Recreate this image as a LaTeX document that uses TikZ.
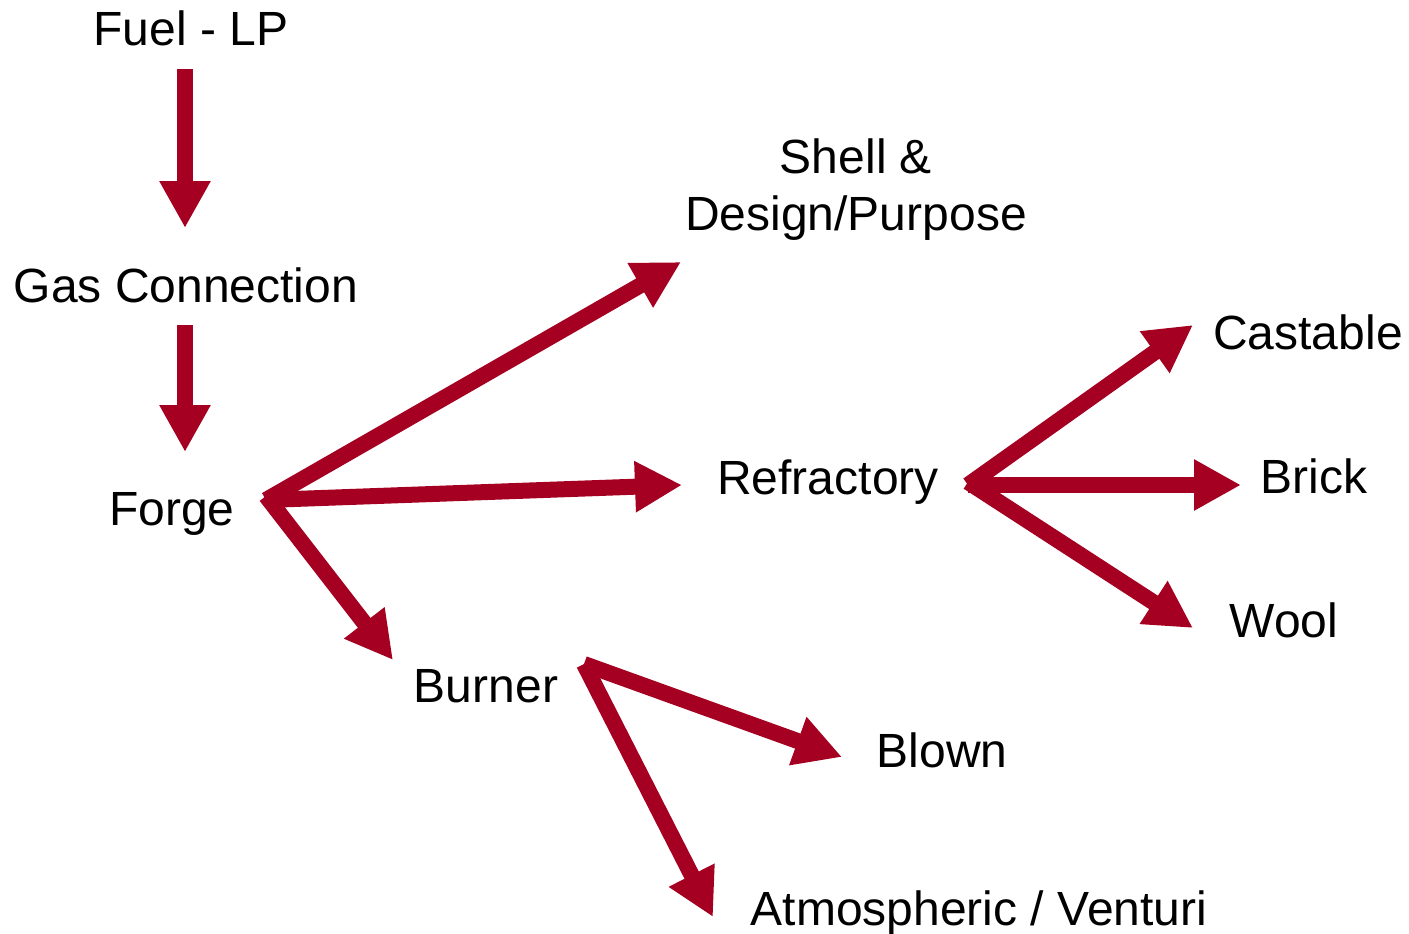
\documentclass[tikz,border=0pt]{standalone}
\usepackage{fontspec}
\setmainfont{Liberation Sans}
\usetikzlibrary{arrows.meta}
\definecolor{forgered}{RGB}{165,0,33}

\begin{document}
\begin{tikzpicture}[x = 1pt, y = -1pt,
                      label/.style = {inner sep = 0, anchor = base, font = \fontsize{48}{57}\selectfont},
                      flow/.style = {draw = forgered, line width = 16pt,
                                     -{Triangle[width = 48pt, length = 47pt]}}]
    \useasboundingbox (0, 0) rectangle (1409, 934);

    \node [label] (fuel) at (191, 46){Fuel - LP};
    \node [label] (gas) at (186, 302){Gas Connection};
    \node [label] (forge) at (172, 525){Forge};
    \node [label, align = center, anchor = north] (shell) at (856, 139){Shell \&\\Design/Purpose};
    \node [label] (refractory) at (828, 494){Refractory};
    \node [label] (castable) at (1308, 349){Castable};
    \node [label] (brick) at (1314, 493){Brick};
    \node [label] (wool) at (1284, 637){Wool};
    \node [label] (burner) at (486, 702){Burner};
    \node [label] (blown) at (942, 767){Blown};
    \node [label] (atmos) at (979, 925){Atmospheric / Venturi};

    % start and end points of the arrows
    \coordinate (fuel-out) at (185, 69);
    \coordinate (gas-in) at (185, 228);
    \coordinate (gas-out) at (185, 325);
    \coordinate (forge-in) at (185, 452);
    \coordinate (forge-hub) at (266, 500);
    \coordinate (shell-in) at (681, 262);
    \coordinate (refractory-in) at (682, 485);
    \coordinate (burner-in) at (393, 660);
    \coordinate (refractory-hub) at (968, 485);
    \coordinate (castable-in) at (1193, 325);
    \coordinate (brick-in) at (1241, 485);
    \coordinate (wool-in) at (1193, 628);
    \coordinate (burner-hub) at (584, 664);
    \coordinate (blown-in) at (842, 757);
    \coordinate (atmos-in) at (713, 917);

    \draw [flow] (fuel-out) -- (gas-in);
    \draw [flow] (gas-out) -- (forge-in);
    \draw [flow] (forge-hub) -- (shell-in);
    \draw [flow] (forge-hub) -- (refractory-in);
    \draw [flow] ([yshift = 4pt]forge-hub) -- (burner-in);
    \draw [flow] (refractory-hub) -- (castable-in);
    \draw [flow] (refractory-hub) -- (brick-in);
    \draw [flow] ([yshift = 3pt]refractory-hub) -- (wool-in);
    \draw [flow] (burner-hub) -- (blown-in);
    \draw [flow] (burner-hub) -- (atmos-in);
\end{tikzpicture}
\end{document}
